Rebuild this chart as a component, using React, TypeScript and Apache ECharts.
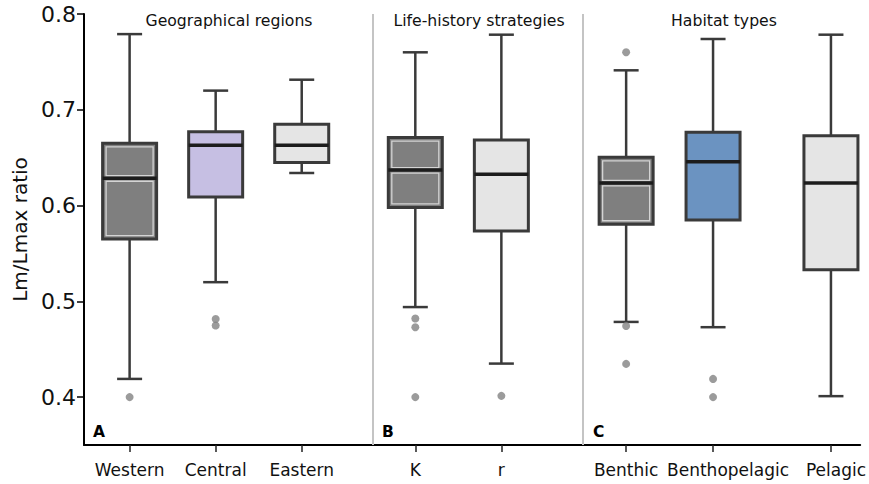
import React, { useEffect, useRef } from "react";
import * as echarts from "echarts";

// Category names and their positions along the x axis (axis units)
const categories = ["Western", "Central", "Eastern", "K", "r", "Benthic", "Benthopelagic", "Pelagic"];
const categoryPositions = [0, 1, 2, 3.32, 4.32, 5.77, 6.78, 8.15];

// Box statistics: [min whisker, Q1, median, Q3, max whisker]
const whiskerLow = [0.419, 0.52, 0.634, 0.494, 0.435, 0.4785, 0.473, 0.401];
const quartile1 = [0.565, 0.609, 0.645, 0.598, 0.5735, 0.5805, 0.585, 0.533];
const medians = [0.6285, 0.663, 0.663, 0.637, 0.6327, 0.6236, 0.6458, 0.6236];
const quartile3 = [0.665, 0.677, 0.685, 0.671, 0.6685, 0.6504, 0.6765, 0.673];
const whiskerHigh = [0.779, 0.72, 0.7314, 0.76, 0.7784, 0.7412, 0.7739, 0.7784];

// Outliers: [category index, value]
const outlierCategory = [0, 1, 1, 3, 3, 3, 4, 5, 5, 5, 6, 6];
const outlierValues = [0.4, 0.4816, 0.4747, 0.482, 0.473, 0.4, 0.4013, 0.76, 0.4743, 0.4347, 0.419, 0.4];

// Panel separators (x axis units)
const separatorPositions = [2.822, 5.27];

// Panel titles and letters
const panelTitles = ["Geographical regions", "Life-history strategies", "Habitat types"];
const panelLetters = ["A", "B", "C"];

// Y ticks
const yTicks = [0.4, 0.5, 0.6, 0.7, 0.8];

const boxColors = ["#7f7f7f", "#c6bfe3", "#e5e5e5", "#7f7f7f", "#e5e5e5", "#7f7f7f", "#6b93c1", "#e5e5e5"];
const innerHighlight = [true, false, false, true, false, true, false, false];
// label shift (rich padding on the left) for labels that are not centred on their tick
const labelPadLeft = [0, 0, 0, 0, 0, 0, 30, 10];

const FONT = "DejaVu Sans, Verdana, sans-serif";

export default function App() {
  const ref = useRef<HTMLDivElement>(null);
  useEffect(() => {
    document.body.style.margin = "0";
    if (!ref.current) return;
    const chart = echarts.init(ref.current, undefined, { renderer: "svg" });

    const boxData = categories.map((_, i) => [
      categoryPositions[i],
      whiskerLow[i],
      quartile1[i],
      medians[i],
      quartile3[i],
      whiskerHigh[i],
    ]);
    const outlierData = outlierCategory.map((c, i) => [categoryPositions[c], outlierValues[i]]);

    const idxAt = (v: number) => categoryPositions.findIndex((p) => Math.abs(p - v) < 1e-6);

    const rich: any = {};
    labelPadLeft.forEach((p, i) => {
      rich["l" + i] = {
        fontSize: 17,
        fontFamily: FONT,
        color: "#111",
        padding: [0, 0, 0, p],
      };
    });

    const edge = "#3a3a3a";

    const option: any = {
      animation: false,
      backgroundColor: "#ffffff",
      grid: { left: 84, right: 0, top: 14, bottom: 39, containLabel: false },
      xAxis: {
        type: "value",
        min: -0.53,
        max: 8.49,
        splitLine: { show: false },
        axisLine: { show: true, onZero: false, lineStyle: { color: "#000", width: 2 } },
        axisTick: {
          show: true,
          customValues: categoryPositions,
          length: 7,
          lineStyle: { color: "#222", width: 1.5 },
        },
        axisLabel: {
          show: true,
          customValues: categoryPositions,
          hideOverlap: false,
          formatter: (v: number) => {
            const i = idxAt(v);
            return i >= 0 ? `{l${i}|${categories[i]}}` : "";
          },
          rich,
          fontSize: 17,
          fontFamily: FONT,
          color: "#111",
          margin: 16,
        },
      },
      yAxis: {
        type: "value",
        min: 0.35,
        max: 0.8,
        name: "Lm/Lmax ratio",
        nameLocation: "middle",
        nameGap: 49,
        nameTextStyle: { fontSize: 20, fontFamily: FONT, color: "#111" },
        splitLine: { show: false },
        axisLine: { show: true, onZero: false, lineStyle: { color: "#000", width: 2 } },
        axisTick: { show: true, customValues: yTicks, length: 7, lineStyle: { color: "#000", width: 1.5 } },
        axisLabel: {
          show: true,
          customValues: yTicks,
          formatter: (v: number) => v.toFixed(1),
          fontSize: 22,
          fontFamily: FONT,
          color: "#111",
          margin: 8,
        },
      },
      series: [
        {
          type: "custom",
          data: boxData,
          encode: { x: 0, y: [1, 2, 3, 4, 5] },
          z: 3,
          renderItem: (params: any, api: any) => {
            const x = api.value(0);
            const lo = api.coord([x, api.value(1)]);
            const q1 = api.coord([x, api.value(2)]);
            const md = api.coord([x, api.value(3)]);
            const q3 = api.coord([x, api.value(4)]);
            const hi = api.coord([x, api.value(5)]);
            const cx = lo[0];
            const hw = 27;
            const cw = 12.5;
            const i = params.dataIndex;
            const wStyle = { stroke: edge, lineWidth: 2.5 };
            const children: any[] = [
              { type: "line", shape: { x1: cx, y1: hi[1], x2: cx, y2: q3[1] }, style: wStyle },
              { type: "line", shape: { x1: cx, y1: q1[1], x2: cx, y2: lo[1] }, style: wStyle },
              { type: "line", shape: { x1: cx - cw, y1: hi[1], x2: cx + cw, y2: hi[1] }, style: wStyle },
              { type: "line", shape: { x1: cx - cw, y1: lo[1], x2: cx + cw, y2: lo[1] }, style: wStyle },
              {
                type: "rect",
                shape: { x: cx - hw, y: q3[1], width: 2 * hw, height: q1[1] - q3[1] },
                style: { fill: boxColors[i], stroke: edge, lineWidth: 3 },
              },
            ];
            if (innerHighlight[i]) {
              children.push({
                type: "rect",
                shape: { x: cx - hw + 3.5, y: q3[1] + 3.5, width: 2 * hw - 7, height: md[1] - q3[1] - 6 },
                style: { fill: "none", stroke: "#d4d4d4", lineWidth: 1.3 },
              });
              children.push({
                type: "rect",
                shape: { x: cx - hw + 3.5, y: md[1] + 3, width: 2 * hw - 7, height: q1[1] - md[1] - 6.5 },
                style: { fill: "none", stroke: "#d4d4d4", lineWidth: 1.3 },
              });
            }
            children.push({
              type: "line",
              shape: { x1: cx - hw, y1: md[1], x2: cx + hw, y2: md[1] },
              style: { stroke: "#1c1c1c", lineWidth: 3.5 },
            });
            return { type: "group", children };
          },
        },
        {
          type: "scatter",
          data: outlierData,
          symbol: "circle",
          symbolSize: 8,
          itemStyle: { color: "#828282" },
          z: 4,
          markLine: {
            silent: true,
            symbol: ["none", "none"],
            label: { show: false },
            lineStyle: { color: "#c4c4c4", width: 2, type: "solid" },
            data: separatorPositions.map((p) => ({ xAxis: p })),
          },
        },
      ],
      graphic: [
        ...panelTitles.map((t, i) => ({
          type: "text",
          x: [229, 479, 724][i],
          y: 20,
          style: {
            text: t,
            fontSize: 15.7,
            fontFamily: FONT,
            fill: "#111",
            textAlign: "center",
            textVerticalAlign: "middle",
          },
        })),
        ...panelLetters.map((t, i) => ({
          type: "text",
          x: [93, 382, 593][i],
          y: 432,
          style: {
            text: t,
            fontSize: 15.5,
            fontWeight: "bold",
            fontFamily: FONT,
            fill: "#000",
            textAlign: "left",
            textVerticalAlign: "middle",
          },
        })),
      ],
    };
    chart.setOption(option);
    return () => chart.dispose();
  }, []);
  return <div ref={ref} style={{ width: 869, height: 484 }} />;
}
